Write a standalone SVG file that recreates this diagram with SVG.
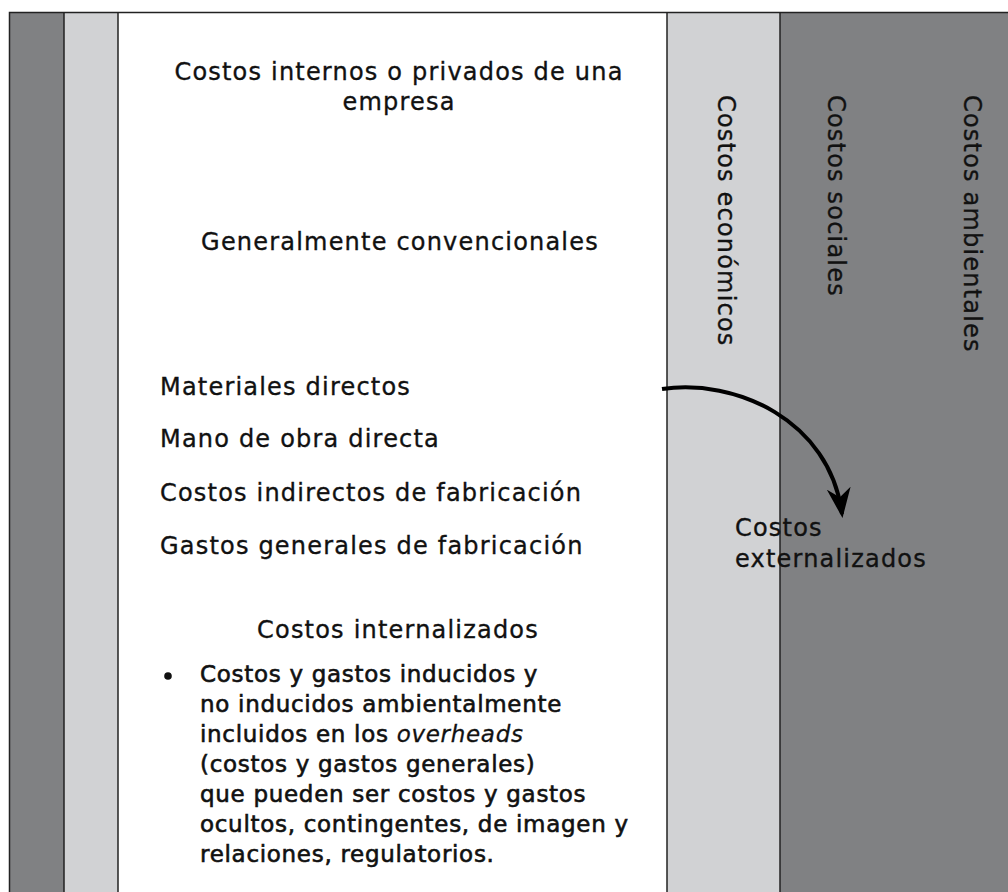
<svg xmlns="http://www.w3.org/2000/svg" width="1008" height="892" viewBox="0 0 1008 892">
<style>
text{font-family:"DejaVu Sans","Noto Sans",sans-serif;font-size:24px;fill:#111;stroke:#111;stroke-width:0.35;letter-spacing:1.2px}
.c{text-anchor:middle}
.b{font-size:23px;letter-spacing:0.7px;stroke-width:0.6}
.dark{fill:#808183}
.light{fill:#d1d2d4}
.ln{stroke:#222;stroke-width:1.5;fill:none}
</style>
<defs>
<marker id="ah" viewBox="0 0 30 24" refX="26" refY="12" markerWidth="7.5" markerHeight="6" orient="auto" markerUnits="strokeWidth">
<path d="M0,0 L30,12 L0,24 L9,12 Z" fill="#000"/>
</marker>
</defs>
<rect x="0" y="0" width="1008" height="892" fill="#fff"/>
<g id="bands">
<rect class="dark" x="9" y="12" width="55" height="890"/>
<rect class="light" x="64" y="12" width="54" height="890"/>
<rect x="118" y="12" width="549" height="890" fill="#fff"/>
<rect class="light" x="667" y="12" width="113" height="890"/>
<rect class="dark" x="780" y="12" width="240" height="890"/>
<rect class="ln" x="9.5" y="12.5" width="1010" height="900"/>
<line class="ln" x1="64" y1="12" x2="64" y2="892"/>
<line class="ln" x1="118" y1="12" x2="118" y2="892"/>
<line class="ln" x1="667" y1="12" x2="667" y2="892"/>
<line class="ln" x1="780" y1="12" x2="780" y2="892"/>
</g>
<g id="internos">
<text class="c" x="399" y="80">Costos internos o privados de una</text>
<text class="c" x="399" y="110">empresa</text>
</g>
<g id="convencionales">
<text class="c" x="400" y="250">Generalmente convencionales</text>
<text x="160" y="395">Materiales directos</text>
<text x="160" y="447">Mano de obra directa</text>
<text x="160" y="501">Costos indirectos de fabricación</text>
<text x="160" y="554">Gastos generales de fabricación</text>
</g>
<g id="internalizados">
<text class="c" x="398" y="638">Costos internalizados</text>
<circle cx="168" cy="676" r="3.8" fill="#111"/>
<text class="b" x="200" y="682">Costos y gastos inducidos y</text>
<text class="b" x="200" y="712">no inducidos ambientalmente</text>
<text class="b" x="200" y="742">incluidos en los <tspan font-style="italic" stroke-width="0.3">overheads</tspan></text>
<text class="b" x="200" y="772">(costos y gastos generales)</text>
<text class="b" x="200" y="802">que pueden ser costos y gastos</text>
<text class="b" x="200" y="832">ocultos, contingentes, de imagen y</text>
<text class="b" x="200" y="862">relaciones, regulatorios.</text>
</g>
<g id="economicos"><text transform="translate(718,95) rotate(90)">Costos económicos</text></g>
<g id="sociales"><text transform="translate(828,95) rotate(90)">Costos sociales</text></g>
<g id="ambientales"><text transform="translate(964,95) rotate(90)">Costos ambientales</text></g>
<g id="externalizados">
<text x="735" y="536">Costos</text>
<text x="735" y="567">externalizados</text>
</g>
<g id="connectors">
<path d="M662,389 C735,378 830,420 842,514" fill="none" stroke="#000" stroke-width="4" marker-end="url(#ah)"/>
</g>
</svg>
